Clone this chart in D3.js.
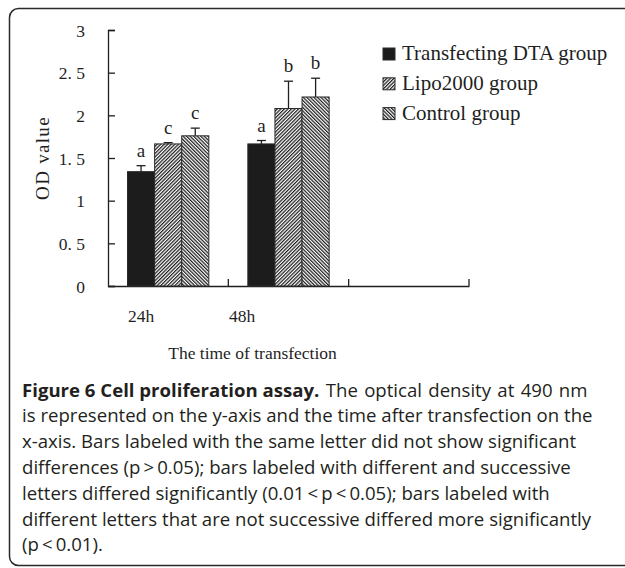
<!DOCTYPE html>
<html>
<head>
<meta charset="utf-8">
<script src="https://cdn.jsdelivr.net/npm/d3@7"></script>
<style>
  html, body { margin: 0; padding: 0; background: #fff; }
  svg text { white-space: pre; }
</style>
</head>
<body>
<script>
// time points on the x axis (third slot is empty in the original)
const categories = ['24h', '48h', ''];
const tickLabels = ['24h', '48h'];
const groups = ['Transfecting DTA group', 'Lipo2000 group', 'Control group'];

// OD values, per group, in category order
const dtaValues = [1.34, 1.665];
const lipoValues = [1.665, 2.08];
const controlValues = [1.76, 2.215];

// upper error bars
const dtaErrors = [0.07, 0.04];
const lipoErrors = [0.015, 0.32];
const controlErrors = [0.09, 0.22];

// significance letters
const dtaLetters = ['a', 'a'];
const lipoLetters = ['c', 'b'];
const controlLetters = ['c', 'b'];

const yTicks = [0, 0.5, 1, 1.5, 2, 2.5, 3];

const captionBold = 'Figure 6 Cell proliferation assay.';
const captionLines = [
    ' The optical density at 490 nm',
    'is represented on the y-axis and the time after transfection on the',
    'x-axis. Bars labeled with the same letter did not show significant',
    'differences (p\u2009>\u20090.05); bars labeled with different and successive',
    'letters differed significantly (0.01\u2009<\u2009p\u2009<\u20090.05); bars labeled with',
    'different letters that are not successive differed more significantly',
    '(p\u2009<\u20090.01).',
];

const width = 625;
const height = 568;
const ink = '#1f1f1f';
const serif = '"Liberation Serif", "Times New Roman", serif';

const svg = d3
    .select('body')
    .append('svg')
    .attr('width', width)
    .attr('height', height);

// patterns for the hatched bars
const defs = svg.append('defs');
function hatch(id, angle) {
    const p = defs
        .append('pattern')
        .attr('id', id)
        .attr('patternUnits', 'userSpaceOnUse')
        .attr('width', 2.5)
        .attr('height', 10)
        .attr('patternTransform', 'rotate(' + angle + ')');
    p.append('rect').attr('width', 2.5).attr('height', 10).attr('fill', '#fff');
    p.append('rect').attr('width', 1.25).attr('height', 10).attr('fill', ink);
}
hatch('hatch-fwd', 45);
hatch('hatch-back', -45);
const fills = ['#1c1c1c', 'url(#hatch-fwd)', 'url(#hatch-back)'];

// frame with rounded corners, open to the right
svg.append('rect')
    .attr('x', 9.5)
    .attr('y', 8.5)
    .attr('width', 700)
    .attr('height', 557)
    .attr('rx', 9)
    .attr('fill', 'none')
    .attr('stroke', '#2a2a2a')
    .attr('stroke-width', 1.5);

// scales
const y = d3.scaleLinear().domain([0, 3]).range([286, 30]);
const x = d3.scaleBand().domain(categories).range([108, 469]).paddingInner(0);
const xSub = d3
    .scaleBand()
    .domain(groups)
    .range([0, x.bandwidth()])
    .paddingInner(0)
    .paddingOuter(0.72);
const xLabel = d3.scalePoint().domain(tickLabels).range([141, 242]);

// y axis with inner ticks
const yAxis = d3
    .axisLeft(y)
    .tickValues(yTicks)
    .tickSize(-7)
    .tickPadding(23)
    .tickFormat((d) => (Number.isInteger(d) ? String(d) : d3.format('.1f')(d).replace('.', '. ')));
const gy = svg.append('g').attr('transform', 'translate(108,0)').call(yAxis);
gy.select('.domain').attr('stroke', ink).attr('stroke-width', 1.3);
gy.selectAll('.tick line').attr('stroke', ink).attr('stroke-width', 1.3);
gy.selectAll('.tick text')
    .attr('font-family', serif)
    .attr('font-size', 17.5)
    .attr('fill', ink)
    .attr('dy', '0.36em');

// x axis: ticks between categories, pointing up
const xAxis = d3
    .axisBottom(x)
    .tickValues([])
    .tickSizeOuter(0);
const gx = svg.append('g').attr('transform', 'translate(0,286)').call(xAxis);
gx.select('.domain').attr('stroke', ink).attr('stroke-width', 1.3);
gx.selectAll('.sep')
    .data(categories.slice(1).concat(['end']))
    .join('line')
    .attr('class', 'sep')
    .attr('x1', (d, i) => x(categories[i]) + x.bandwidth())
    .attr('x2', (d, i) => x(categories[i]) + x.bandwidth())
    .attr('y1', 0)
    .attr('y2', -7)
    .attr('stroke', ink)
    .attr('stroke-width', 1.3);

svg.append('g')
    .selectAll('text')
    .data(tickLabels)
    .join('text')
    .attr('x', (d) => xLabel(d))
    .attr('y', 322)
    .attr('text-anchor', 'middle')
    .attr('font-family', serif)
    .attr('font-size', 17.5)
    .attr('fill', ink)
    .text((d) => d);

// axis titles
svg.append('text')
    .attr('transform', 'translate(49,158) rotate(-90)')
    .attr('text-anchor', 'middle')
    .attr('font-family', serif)
    .attr('font-size', 19)
    .attr('letter-spacing', 1.3)
    .attr('fill', ink)
    .text('OD value');

svg.append('text')
    .attr('x', 252.5)
    .attr('y', 359)
    .attr('text-anchor', 'middle')
    .attr('font-family', serif)
    .attr('font-size', 17.5)
    .attr('fill', ink)
    .text('The time of transfection');

// bars
const series = [
    { name: groups[0], values: dtaValues, errors: dtaErrors, letters: dtaLetters },
    { name: groups[1], values: lipoValues, errors: lipoErrors, letters: lipoLetters },
    { name: groups[2], values: controlValues, errors: controlErrors, letters: controlLetters },
];
const rows = [];
series.forEach((s, si) => {
    s.values.forEach((v, ci) => {
        rows.push({
            cat: categories[ci],
            group: s.name,
            si: si,
            value: v,
            err: s.errors[ci],
            letter: s.letters[ci],
        });
    });
});

const bars = svg.append('g');
const cx = (d) => x(d.cat) + xSub(d.group) + xSub.bandwidth() / 2;

// error bars behind the bars
bars.selectAll('.err')
    .data(rows)
    .join('line')
    .attr('class', 'err')
    .attr('x1', cx)
    .attr('x2', cx)
    .attr('y1', (d) => y(d.value))
    .attr('y2', (d) => y(d.value + d.err))
    .attr('stroke', ink)
    .attr('stroke-width', 1.3);
bars.selectAll('.cap')
    .data(rows)
    .join('line')
    .attr('class', 'cap')
    .attr('x1', (d) => cx(d) - 4.5)
    .attr('x2', (d) => cx(d) + 4.5)
    .attr('y1', (d) => y(d.value + d.err))
    .attr('y2', (d) => y(d.value + d.err))
    .attr('stroke', ink)
    .attr('stroke-width', 1.3);

bars.selectAll('.bar')
    .data(rows)
    .join('rect')
    .attr('class', 'bar')
    .attr('x', (d) => x(d.cat) + xSub(d.group))
    .attr('y', (d) => y(d.value))
    .attr('width', xSub.bandwidth())
    .attr('height', (d) => y(0) - y(d.value))
    .attr('fill', (d) => fills[d.si])
    .attr('stroke', '#2a2a2a')
    .attr('stroke-width', 1);

bars.selectAll('.letter')
    .data(rows)
    .join('text')
    .attr('class', 'letter')
    .attr('x', cx)
    .attr('y', (d) => y(d.value + d.err) - 9)
    .attr('text-anchor', 'middle')
    .attr('font-family', serif)
    .attr('font-size', 19)
    .attr('fill', ink)
    .text((d) => d.letter);

// legend
const legend = svg
    .append('g')
    .selectAll('g')
    .data(groups)
    .join('g')
    .attr('transform', (d, i) => 'translate(383,' + (48 + i * 29.8) + ')');
legend.append('rect')
    .attr('width', 12)
    .attr('height', 12)
    .attr('fill', (d, i) => fills[i])
    .attr('stroke', '#2a2a2a')
    .attr('stroke-width', 1);
legend.append('text')
    .attr('x', 19)
    .attr('y', 12.3)
    .attr('font-family', serif)
    .attr('font-size', 21)
    .attr('fill', ink)
    .text((d) => d);

// caption
const caption = svg
    .append('text')
    .attr('font-family', '"Open Sans", sans-serif')
    .attr('font-size', 18.6)
    .attr('fill', '#231f20');
captionLines.forEach((line, i) => {
    const t = caption
        .append('tspan')
        .attr('x', 22)
        .attr('y', 396.5 + i * 25.8);
    if (i === 0) {
        caption.select('tspan').attr('font-weight', 'bold').text(captionBold);
        caption.append('tspan').attr('word-spacing', 1.5).text(line);
    } else {
        t.text(line);
    }
});
</script>
</body>
</html>
